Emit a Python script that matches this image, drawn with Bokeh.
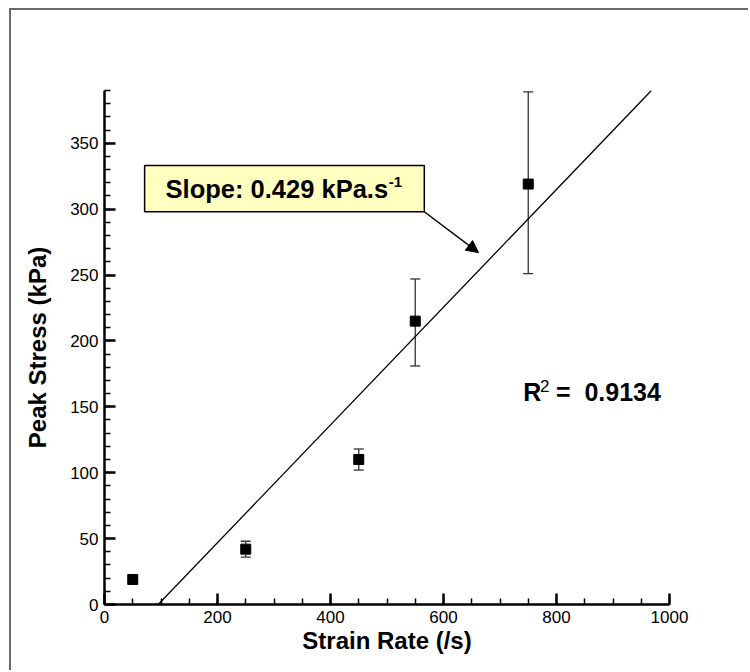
from bokeh.plotting import figure
from bokeh.models import (Range1d, SingleIntervalTicker, Whisker, ColumnDataSource,
                          BoxAnnotation, Label, Arrow, NormalHead)
from bokeh.embed import file_html
from bokeh.resources import INLINE

# ---- data ----
strain_rate = [50, 250, 450, 550, 750]
peak_stress = [19, 42, 110, 215, 319]
err_upper = [19, 48, 118, 247, 389]
err_lower = [19, 36, 102, 181, 251]

fit_x = [95, 968]
fit_y = [0, 390]

slope_text = "Slope: 0.429 kPa.s"
r2_value = "0.9134"

FONT = "Liberation Sans"

p = figure(width=739, height=662, output_backend="svg", toolbar_location=None,
           x_range=Range1d(0, 1000), y_range=Range1d(0, 390),
           min_border_left=93, min_border_right=81, min_border_top=80, min_border_bottom=68,
           margin=(8, 0, 0, 9))
p.styles = {"border-top": "2px solid #6a6a6a", "border-left": "2px solid #6a6a6a"}
p.outline_line_color = None
p.grid.visible = False
p.background_fill_color = "white"
p.border_fill_color = "white"

p.xaxis.ticker = SingleIntervalTicker(interval=200, num_minor_ticks=4)
p.yaxis.ticker = SingleIntervalTicker(interval=50, num_minor_ticks=5)

for ax in (p.xaxis, p.yaxis):
    ax.axis_line_width = 2.5
    ax.axis_line_color = "black"
    ax.major_tick_in = 11
    ax.major_tick_out = 0
    ax.minor_tick_in = 6
    ax.minor_tick_out = 0
    ax.major_tick_line_width = 2.5
    ax.minor_tick_line_width = 1.5
    ax.major_tick_line_color = "black"
    ax.minor_tick_line_color = "black"
    ax.major_label_text_font = FONT
    ax.major_label_text_font_size = "17px"
    ax.major_label_text_color = "black"
    ax.axis_label_text_font = FONT
    ax.axis_label_text_font_style = "bold"
    ax.axis_label_text_font_size = "24px"
    ax.axis_label_text_color = "black"

p.xaxis.axis_label = "Strain Rate (/s)"
p.yaxis.axis_label = "Peak Stress (kPa)"
p.xaxis.major_label_standoff = 6
p.yaxis.major_label_standoff = 6
p.xaxis.axis_label_standoff = 1
p.yaxis.axis_label_standoff = 16

# regression line
p.line(fit_x, fit_y, line_color="black", line_width=1.3)

# error bars
src = ColumnDataSource(dict(x=strain_rate, y=peak_stress, up=err_upper, lo=err_lower))
w = Whisker(source=src, base="x", upper="up", lower="lo", dimension="height",
            line_color="#333333", line_width=1.3)
w.upper_head.size = 10
w.lower_head.size = 10
w.upper_head.line_color = "#333333"
w.lower_head.line_color = "#333333"
w.upper_head.line_width = 1.3
w.lower_head.line_width = 1.3
p.add_layout(w)

p.scatter("x", "y", source=src, marker="square", size=10, fill_color="black", line_color="black")

# slope annotation box
box = BoxAnnotation(left=71, right=566, bottom=298, top=333,
                    fill_color="#FFFFC0", fill_alpha=1.0, line_color="black",
                    line_alpha=1.0, line_width=1.5)
p.add_layout(box)
p.add_layout(Label(x=502, y=315.5, text=slope_text, text_align="right", text_baseline="middle",
                   text_font=FONT, text_font_style="bold", text_font_size="25.5px", text_color="black"))
p.add_layout(Label(x=503, y=320.5, text="-1", text_align="left", text_baseline="middle",
                   text_font=FONT, text_font_style="bold", text_font_size="15px", text_color="black"))

p.add_layout(Arrow(x_start=566, y_start=298, x_end=662, y_end=267, line_color="black", line_width=1.5,
                   end=NormalHead(size=12, fill_color="black", line_color="black")))

# R^2 text
p.add_layout(Label(x=741, y=161, text="R", text_align="left", text_baseline="middle",
                   text_font=FONT, text_font_style="bold", text_font_size="25px", text_color="black"))
p.add_layout(Label(x=771, y=166, text="2", text_align="left", text_baseline="middle",
                   text_font=FONT, text_font_style="normal", text_font_size="17px", text_color="black"))
p.add_layout(Label(x=799, y=161, text="=\u00a0\u00a0" + r2_value, text_align="left", text_baseline="middle",
                   text_font=FONT, text_font_style="bold", text_font_size="25px", text_color="black"))

open("out.html", "w").write(file_html(p, INLINE))
